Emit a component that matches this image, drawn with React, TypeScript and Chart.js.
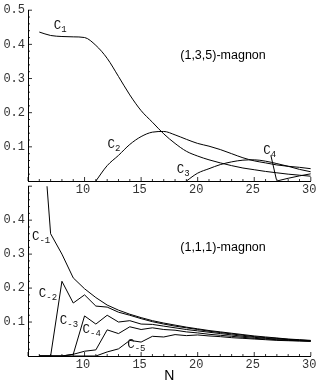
import React, { useEffect, useRef } from 'react';
import { Chart, registerables } from 'chart.js';
Chart.register(...registerables);

// ---------- data ----------
const nValues = [6, 7, 8, 9, 10, 11, 12, 13, 14, 15, 16, 17, 18, 19, 20, 21, 22, 23, 24, 25, 26, 27, 28, 29, 30];

// (1,3,5)-magnon panel
const topC1 = [0.436, 0.426, 0.423, 0.422, 0.42, 0.397, 0.359, 0.306, 0.252, 0.206, 0.172, 0.138, 0.11, 0.087, 0.073, 0.062, 0.053, 0.045, 0.038, 0.033, 0.028, 0.024, 0.02, 0.017, 0.014];
const topC2 = [null, null, null, null, null, 0, 0.045, 0.075, 0.107, 0.13, 0.143, 0.145, 0.135, 0.122, 0.11, 0.102, 0.092, 0.08, 0.068, 0.059, 0.053, 0.047, 0.043, 0.04, 0.036];
const topC3 = [null, null, null, null, null, null, null, null, null, null, null, null, null, 0, 0.023, 0.036, 0.048, 0.056, 0.061, 0.062, 0.058, 0.051, 0.043, 0.034, 0.027];
const topC4 = [null, null, null, null, null, null, null, null, null, null, null, null, null, null, null, null, null, null, null, null, null, 0, 0.008, 0.015, 0.021];

// (1,1,1)-magnon panel
const botC1 = [0.8, 0.36, 0.3, 0.23, 0.198, 0.172, 0.15, 0.135, 0.123, 0.113, 0.104, 0.097, 0.091, 0.085, 0.08, 0.075, 0.071, 0.067, 0.063, 0.059, 0.056, 0.053, 0.05, 0.048, 0.046];
const botC2 = [0, 0, 0.22, 0.156, 0.18, 0.147, 0.144, 0.129, 0.12, 0.11, 0.101, 0.094, 0.088, 0.083, 0.078, 0.073, 0.069, 0.065, 0.061, 0.057, 0.054, 0.052, 0.049, 0.047, 0.045];
const botC3 = [0, 0, 0, 0.005, 0.118, 0.094, 0.12, 0.1, 0.104, 0.094, 0.093, 0.088, 0.083, 0.078, 0.074, 0.07, 0.066, 0.062, 0.058, 0.055, 0.052, 0.05, 0.048, 0.046, 0.044];
const botC4 = [0, 0, 0, 0.005, 0.014, 0.018, 0.077, 0.066, 0.086, 0.078, 0.083, 0.078, 0.076, 0.071, 0.068, 0.064, 0.061, 0.058, 0.055, 0.052, 0.05, 0.048, 0.046, 0.045, 0.044];
const botC5 = [0, 0, 0, 0, 0, 0, 0.012, 0.021, 0.046, 0.041, 0.058, 0.056, 0.063, 0.06, 0.062, 0.059, 0.057, 0.054, 0.052, 0.05, 0.048, 0.046, 0.045, 0.044, 0.043];

const xMin = 5;
const xMax = 30;
const xLabelTicks = [10, 15, 20, 25, 30];
const topYLabelTicks = [0.1, 0.2, 0.3, 0.4, 0.5];
const botYLabelTicks = [0.1, 0.2, 0.3, 0.4];

const topCurveLabels = [
  { n: 7.28, v: 0.445, sub: '1' },
  { n: 12.02, v: 0.098, sub: '2' },
  { n: 18.16, v: 0.023, sub: '3' },
  { n: 25.79, v: 0.08, sub: '4' },
];
const botCurveLabels = [
  { n: 5.35, v: 0.342, sub: '-1' },
  { n: 5.96, v: 0.175, sub: '-2' },
  { n: 7.81, v: 0.095, sub: '-3' },
  { n: 9.82, v: 0.069, sub: '-4' },
  { n: 13.77, v: 0.023, sub: '-5' },
];
const topTitle = { text: '(1,3,5)-magnon', n: 22.24, v: 0.368 };
const botTitle = { text: '(1,1,1)-magnon', n: 22.24, v: 0.32 };
const c4Pointer = [{ n: 26.47, v: 0.075 }, { n: 26.96, v: 0.004 }];

const MONO = '"Liberation Mono", "DejaVu Sans Mono", monospace';
const SANS = '"Liberation Sans", Arial, sans-serif';

function inTicksPlugin() {
  return {
    id: 'inTicks',
    afterDraw(chart: any) {
      const { ctx, chartArea, scales } = chart;
      const xs = scales.x;
      const ys = scales.y;
      ctx.save();
      ctx.strokeStyle = '#000';
      ctx.lineWidth = 0.8;
      ctx.beginPath();
      for (let n = xMin; n <= xMax + 1e-9; n += 1) {
        const px = xs.getPixelForValue(n);
        const len = n % 5 === 0 ? 4 : 2;
        ctx.moveTo(px, chartArea.bottom);
        ctx.lineTo(px, chartArea.bottom - len);
      }
      for (let k = 1; k <= 25; k++) {
        const py = ys.getPixelForValue(k * 0.02);
        const len = k % 5 === 0 ? 4 : 2;
        ctx.moveTo(chartArea.left, py);
        ctx.lineTo(chartArea.left + len, py);
      }
      ctx.stroke();
      ctx.restore();
    },
  };
}

function labelsPlugin(labels: any[], title: any, pointer: any[] | null) {
  return {
    id: 'curveLabels',
    afterDraw(chart: any) {
      const { ctx, scales } = chart;
      const xs = scales.x;
      const ys = scales.y;
      ctx.save();
      ctx.fillStyle = '#111';
      ctx.textAlign = 'left';
      ctx.textBaseline = 'alphabetic';
      labels.forEach((l) => {
        const px = xs.getPixelForValue(l.n);
        const py = ys.getPixelForValue(l.v);
        ctx.font = `12.5px ${MONO}`;
        ctx.fillText('C', px, py);
        ctx.font = `9px ${MONO}`;
        ctx.fillText(l.sub, px + 7.5, py + 3.3);
      });
      ctx.fillStyle = '#000';
      ctx.font = `12.5px ${SANS}`;
      ctx.textAlign = 'center';
      ctx.textBaseline = 'middle';
      ctx.fillText(title.text, xs.getPixelForValue(title.n), ys.getPixelForValue(title.v));
      if (pointer) {
        ctx.strokeStyle = '#000';
        ctx.lineWidth = 1;
        ctx.beginPath();
        ctx.moveTo(xs.getPixelForValue(pointer[0].n), ys.getPixelForValue(pointer[0].v));
        ctx.lineTo(xs.getPixelForValue(pointer[1].n), ys.getPixelForValue(pointer[1].v));
        ctx.stroke();
      }
      ctx.restore();
    },
  };
}

function makeDatasets(series: (number | null)[][], smooth: boolean) {
  return series.map((s) => ({
    data: nValues.map((n, i) => ({ x: n, y: s[i] })),
    borderColor: '#000',
    borderWidth: 1,
    pointRadius: 0,
    fill: false,
    spanGaps: false,
    tension: 0,
    cubicInterpolationMode: smooth ? 'monotone' : 'default',
  }));
}

function makeConfig(opts: {
  series: (number | null)[][];
  smooth: boolean;
  yLabels: number[];
  padTop: number;
  xAxisHeight: number;
  showTitle: boolean;
  labels: any[];
  title: any;
  pointer: any[] | null;
}) {
  return {
    type: 'line',
    data: { datasets: makeDatasets(opts.series, opts.smooth) },
    options: {
      animation: false,
      responsive: false,
      maintainAspectRatio: false,
      events: [],
      layout: { padding: { top: opts.padTop, right: 7, left: 0, bottom: 0 } },
      plugins: { legend: { display: false }, tooltip: { enabled: false }, title: { display: false } },
      scales: {
        x: {
          type: 'linear',
          min: xMin,
          max: xMax,
          afterFit: (s: any) => {
            s.height = opts.xAxisHeight;
          },
          afterBuildTicks: (s: any) => {
            s.ticks = [xMin, ...xLabelTicks].map((v) => ({ value: v }));
          },
          ticks: {
            autoSkip: false,
            maxRotation: 0,
            padding: 2,
            labelOffset: -1.5,
            color: '#333',
            font: { family: MONO, size: 12 },
            callback: (v: number) => (xLabelTicks.includes(v) ? String(v) : ''),
          },
          grid: { display: true, drawOnChartArea: false, drawTicks: false },
          border: { display: true, color: '#000', width: 1 },
          title: {
            display: opts.showTitle,
            text: 'N',
            color: '#000',
            font: { family: SANS, size: 14 },
            padding: { top: 0, bottom: 4 },
          },
        },
        y: {
          type: 'linear',
          min: 0,
          max: 0.5,
          afterFit: (s: any) => {
            s.width = 28;
          },
          afterBuildTicks: (s: any) => {
            s.ticks = [0, ...opts.yLabels].map((v) => ({ value: v }));
          },
          ticks: {
            autoSkip: false,
            padding: 3,
            color: '#333',
            font: { family: MONO, size: 12 },
            callback: (v: number) => (opts.yLabels.some((t) => Math.abs(t - v) < 1e-9) ? v.toFixed(1) : ''),
          },
          grid: { display: true, drawOnChartArea: false, drawTicks: false },
          border: { display: true, color: '#000', width: 1 },
        },
      },
    },
    plugins: [inTicksPlugin(), labelsPlugin(opts.labels, opts.title, opts.pointer)],
  } as any;
}

export default function App() {
  const topRef = useRef<HTMLCanvasElement | null>(null);
  const botRef = useRef<HTMLCanvasElement | null>(null);

  useEffect(() => {
    const bot = new Chart(
      botRef.current as HTMLCanvasElement,
      makeConfig({
        series: [botC1, botC2, botC3, botC4, botC5],
        smooth: false,
        yLabels: botYLabelTicks,
        padTop: 6,
        xAxisHeight: 33,
        showTitle: true,
        labels: botCurveLabels,
        title: botTitle,
        pointer: null,
      })
    );
    const top = new Chart(
      topRef.current as HTMLCanvasElement,
      makeConfig({
        series: [topC1, topC2, topC3, topC4],
        smooth: true,
        yLabels: topYLabelTicks,
        padTop: 7,
        xAxisHeight: 19,
        showTitle: false,
        labels: topCurveLabels,
        title: topTitle,
        pointer: c4Pointer,
      })
    );
    return () => {
      top.destroy();
      bot.destroy();
    };
  }, []);

  return (
    <div style={{ position: 'absolute', left: 0, top: 0, width: 320, height: 389, background: '#fff', overflow: 'hidden' }}>
      <canvas ref={botRef} width={320} height={213} style={{ position: 'absolute', left: 0, top: 176, width: 320, height: 213 }} />
      <canvas ref={topRef} width={320} height={200} style={{ position: 'absolute', left: 0, top: 0, width: 320, height: 200 }} />
    </div>
  );
}
